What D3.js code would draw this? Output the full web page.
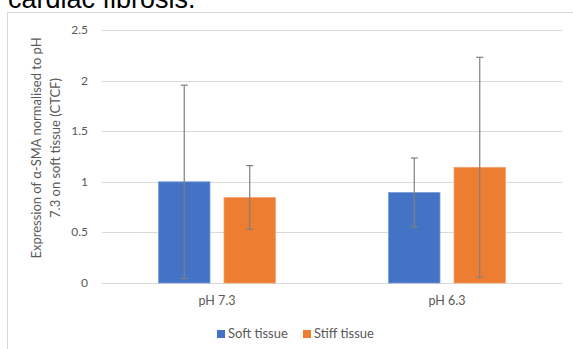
<!DOCTYPE html>
<html><head><meta charset="utf-8">
<script src="https://cdn.jsdelivr.net/npm/d3@7"></script>
<style>html,body{margin:0;padding:0;background:#fff;overflow:hidden}</style>
</head><body>
<svg id="c" width="573" height="349"></svg>
<script>
const categories = ["pH 7.3", "pH 6.3"];
const seriesNames = ["Soft tissue", "Stiff tissue"];
const softValues = [1.0, 0.895];
const stiffValues = [0.845, 1.143];
const softErrors = [0.955, 0.34];
const stiffErrors = [0.315, 1.087];
const yTicks = [0, 0.5, 1, 1.5, 2, 2.5];
const yTickLabels = ["0", "0.5", "1", "1.5", "2", "2.5"];
const colors = ["#4472C4", "#ED7D31"];

(function () {
const svg = d3.select("#c");
const font = "Lato, 'Open Sans', sans-serif";
const txtColor = "#595959";

// title fragment
svg.append("text").attr("x", 8).attr("y", 8).attr("font-family", "'Liberation Sans', Arial, sans-serif")
  .attr("font-size", 27).attr("fill", "#000").text("cardiac fibrosis.");

// chart frame
svg.append("rect").attr("x", 7.5).attr("y", 12.5).attr("width", 580).attr("height", 360)
  .attr("fill", "none").attr("stroke", "#d9d9d9");

const pLeft = 102, pRight = 562, pTop = 30, pBottom = 283;
const y = d3.scaleLinear().domain([0, 2.5]).range([pBottom, pTop]);
const x0 = d3.scaleBand().domain(categories).range([pLeft, pRight]);
const bw = x0.bandwidth();
const groupW = bw * 117 / 230;
const x1 = d3.scaleBand().domain(seriesNames)
  .range([(bw - groupW) / 2, (bw + groupW) / 2]).paddingInner(0.214);

// gridlines
svg.append("g").selectAll("line").data(yTicks).join("line")
  .attr("x1", pLeft).attr("x2", pRight)
  .attr("y1", d => Math.round(y(d)) + 0.5).attr("y2", d => Math.round(y(d)) + 0.5)
  .attr("stroke", "#d9d9d9").attr("stroke-width", 1);

// y tick labels
svg.append("g").selectAll("text").data(yTicks).join("text")
  .attr("x", 88).attr("y", d => y(d) + 4).attr("text-anchor", "end")
  .attr("font-family", font).attr("font-size", 12).attr("fill", txtColor)
  .text((d, i) => yTickLabels[i]);

// bars
const rows = [];
categories.forEach((c, i) => {
  rows.push({cat: c, s: seriesNames[0], v: softValues[i], e: softErrors[i], col: colors[0]});
  rows.push({cat: c, s: seriesNames[1], v: stiffValues[i], e: stiffErrors[i], col: colors[1]});
});
const bars = svg.append("g");
bars.selectAll("rect").data(rows).join("rect")
  .attr("x", d => x0(d.cat) + x1(d.s))
  .attr("y", d => y(d.v))
  .attr("width", x1.bandwidth())
  .attr("height", d => y(0) - y(d.v))
  .attr("fill", d => d.col)
  .attr("stroke", d => d.col === colors[0] ? "#7f9fd8" : "#f4a474")
  .attr("stroke-width", 0.8);

// error bars
const eb = svg.append("g").attr("stroke", "#7f7f7f").attr("stroke-width", 1.2);
rows.forEach(d => {
  const cx = x0(d.cat) + x1(d.s) + x1.bandwidth() / 2;
  eb.append("line").attr("x1", cx).attr("x2", cx).attr("y1", y(d.v + d.e)).attr("y2", y(d.v - d.e));
  eb.append("line").attr("x1", cx - 3.5).attr("x2", cx + 3.5).attr("y1", y(d.v + d.e)).attr("y2", y(d.v + d.e));
  eb.append("line").attr("x1", cx - 3.5).attr("x2", cx + 3.5).attr("y1", y(d.v - d.e)).attr("y2", y(d.v - d.e));
});

// category labels
svg.append("g").selectAll("text").data(categories).join("text")
  .attr("x", d => x0(d) + bw / 2).attr("y", 305).attr("text-anchor", "middle")
  .attr("font-family", font).attr("font-size", 12.5).attr("fill", txtColor).text(d => d);

// y axis title
const yt = svg.append("text").attr("transform", "translate(0,148) rotate(-90)")
  .attr("text-anchor", "middle").attr("font-family", font).attr("font-size", 13).attr("fill", txtColor);
yt.append("tspan").attr("x", 0).attr("y", 41).text("Expression of α-SMA normalised to pH");
yt.append("tspan").attr("x", 0).attr("y", 60).text("7.3 on soft tissue (CTCF)");

// legend
const legX = [217, 303];
const lg = svg.append("g");
seriesNames.forEach((s, i) => {
  lg.append("rect").attr("x", legX[i]).attr("y", 330).attr("width", 8).attr("height", 8).attr("fill", colors[i]);
  lg.append("text").attr("x", legX[i] + 11).attr("y", 338).attr("font-family", font)
    .attr("font-size", 13).attr("fill", txtColor).text(s);
});
})();
</script>
</body></html>
